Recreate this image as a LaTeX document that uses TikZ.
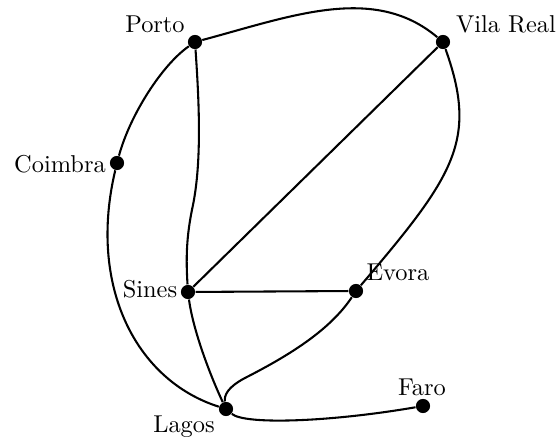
\documentclass[tikz,border=0pt]{standalone}
\begin{document}
\begin{tikzpicture}[x=0.41pt, y=-0.41pt,
  dot/.style={circle, fill=black, inner sep=0pt, minimum size=5.8pt},
  lbl/.style={anchor=base, inner sep=0pt, font=\normalsize},
  edge/.style={line width=0.85pt}]
\useasboundingbox (0,0) rectangle (559,442);
% cities
\node[dot] (porto) at (195,42) {};
\node[dot] (vila) at (443,42) {};
\node[dot] (coimbra) at (117,163) {};
\node[dot] (sines) at (188,292) {};
\node[dot] (evora) at (356,291) {};
\node[dot] (lagos) at (226,409) {};
\node[dot] (faro) at (423,406) {};
% labels
\node[lbl] (lporto) at (155,33) {Porto};
\node[lbl] (lvila) at (506,33) {Vila Real};
\node[lbl] (lcoimbra) at (60,173) {Coimbra};
\node[lbl] (lsines) at (150,298) {Sines};
\node[lbl] (levora) at (398,281) {Evora};
\node[lbl] (llagos) at (184,433) {Lagos};
\node[lbl] (lfaro) at (422,396) {Faro};
% roads
\draw[edge] (porto) .. controls (292,16) and (374,-16) .. (vila);
\draw[edge] (vila) .. controls (478,140) and (455,175) .. (evora);
\draw[edge] (porto) .. controls (199,100) and (202,160) .. (193,205)
  .. controls (186,237) and (186,260) .. (sines);
\draw[edge] (porto) .. controls (162,65) and (130,115) .. (coimbra);
\draw[edge] (coimbra) .. controls (88,285) and (135,380) .. (lagos);
\draw[edge] (sines) .. controls (193,330) and (210,375) .. (lagos);
\draw[edge] (sines) -- (vila);
\draw[edge] (sines) -- (evora);
\draw[edge] (evora) .. controls (330,330) and (290,355) .. (245,378)
  .. controls (228,387) and (224,395) .. (lagos);
\draw[edge] (lagos) .. controls (245,425) and (330,422) .. (faro);
\end{tikzpicture}
\end{document}
